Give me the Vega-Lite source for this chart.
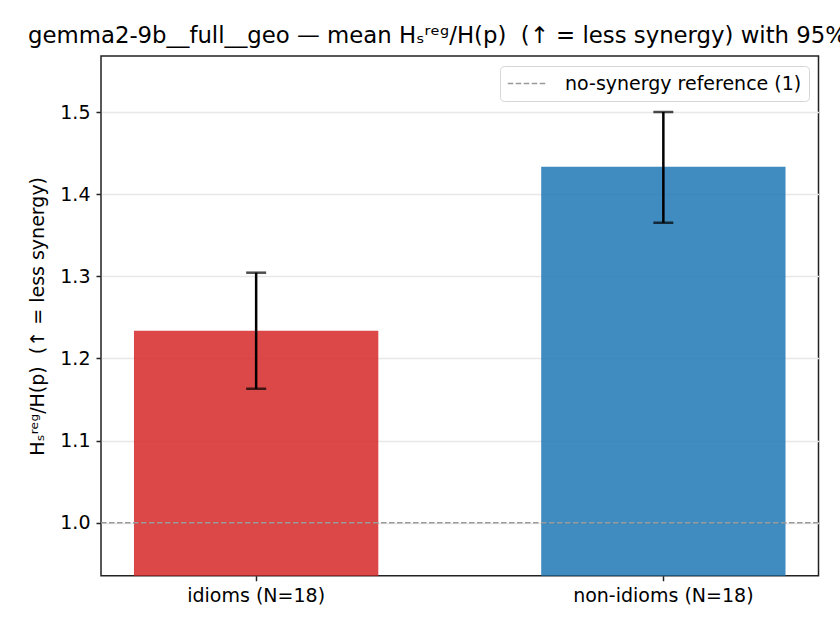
{
  "$schema": "https://vega.github.io/schema/vega-lite/v6.json",
  "autosize": {"type": "none"},
  "padding": {"left": 101, "top": 56, "right": 21.5, "bottom": 54.3},
  "width": 717.5,
  "height": 519.7,
  "background": "white",
  "config": {
    "font": "DejaVu Sans",
    "view": {"stroke": "#222222", "strokeWidth": 1.5},
    "axis": {
      "labelFont": "DejaVu Sans",
      "titleFont": "DejaVu Sans",
      "labelFontSize": 19,
      "titleFontSize": 19,
      "labelColor": "#000000",
      "titleColor": "#000000",
      "titleFontWeight": "normal",
      "tickColor": "#222222",
      "tickWidth": 1.5,
      "tickSize": 5,
      "labelPadding": 6,
      "labelLimit": 400
    }
  },
  "title": {
    "text": "gemma2-9b__full__geo — mean Hₛʳᵉᵍ/H(p)\u00a0\u00a0(↑ = less synergy) with 95% CI",
    "anchor": "start",
    "frame": "group",
    "dx": -73,
    "dy": 21,
    "offset": 11,
    "baseline": "alphabetic",
    "font": "DejaVu Sans",
    "fontSize": 22.8,
    "fontWeight": "normal",
    "color": "#000000"
  },
  "data": {
    "values": [
      {"group": "idioms (N=18)", "mean": 1.2337, "lo": 1.1631, "hi": 1.3044},
      {"group": "non-idioms (N=18)", "mean": 1.4334, "lo": 1.3652, "hi": 1.5}
    ]
  },
  "encoding": {
    "x": {
      "field": "group",
      "type": "nominal",
      "sort": null,
      "title": null,
      "scale": {"paddingInner": 0.4, "paddingOuter": 0.081},
      "axis": {"labelAngle": 0, "domain": false}
    }
  },
  "layer": [
    {
      "mark": {"type": "bar", "opacity": 0.85, "clip": true},
      "encoding": {
        "y": {
          "field": "mean",
          "type": "quantitative",
          "title": "Hₛʳᵉᵍ/H(p)\u00a0\u00a0(↑ = less synergy)",
          "scale": {"domain": [0.9355, 1.5682], "zero": false, "nice": false},
          "axis": {
            "values": [1.0, 1.1, 1.2, 1.3, 1.4, 1.5],
            "format": ".1f",
            "grid": true,
            "gridColor": "#e8e8e8",
            "gridWidth": 1.3,
            "domain": false,
            "titlePadding": 12
          }
        },
        "color": {
          "field": "group",
          "type": "nominal",
          "scale": {"range": ["#d62728", "#1f77b4"]},
          "legend": null
        }
      }
    },
    {
      "mark": {"type": "rule", "color": "black", "strokeWidth": 2.5},
      "encoding": {
        "y": {"field": "lo", "type": "quantitative"},
        "y2": {"field": "hi"}
      }
    },
    {
      "mark": {"type": "tick", "color": "black", "size": 20, "thickness": 2.5},
      "encoding": {"y": {"field": "lo", "type": "quantitative"}}
    },
    {
      "mark": {"type": "tick", "color": "black", "size": 20, "thickness": 2.5},
      "encoding": {"y": {"field": "hi", "type": "quantitative"}}
    },
    {
      "data": {"values": [{"ref": 1.0, "label": "no-synergy reference (1)"}]},
      "mark": {"type": "rule", "color": "#999999", "strokeWidth": 1.5},
      "encoding": {
        "x": null,
        "y": {"field": "ref", "type": "quantitative"},
        "strokeDash": {
          "field": "label",
          "type": "nominal",
          "title": null,
          "scale": {"range": [[5.5, 2.5]]},
          "legend": {
            "orient": "top-right",
            "offset": 10,
            "symbolType": "M-1,0H3",
            "symbolStrokeColor": "#999999",
            "symbolStrokeWidth": 1.5,
            "symbolSize": 380,
            "labelFont": "DejaVu Sans",
            "labelFontSize": 19,
            "labelColor": "#000000",
            "labelLimit": 500,
            "labelOffset": 37,
            "strokeColor": "#d6d6d6",
            "fillColor": "white",
            "cornerRadius": 4,
            "padding": 7
          }
        }
      }
    }
  ]
}
